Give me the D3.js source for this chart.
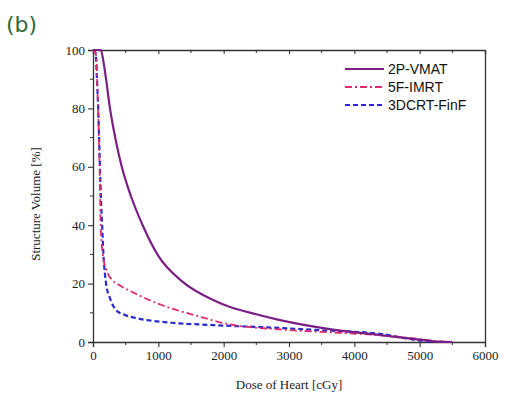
<!DOCTYPE html>
<html><head><meta charset="utf-8">
<script src="https://cdn.jsdelivr.net/npm/d3@7"></script>
<style>body{margin:0;background:#fff}svg{display:block}</style>
</head><body>
<script>
const xTicks = [0,1000,2000,3000,4000,5000,6000];
const yTicks = [0,20,40,60,80,100];
const seriesNames = ["2P-VMAT","5F-IMRT","3DCRT-FinF"];
const vmatDose = [0,120,160,200,260,340,440,580,760,1000,1378,1838,2098,2500,2864,3600,4395,5000,5300,5500];
const vmatVol  = [100,100,96,90,80,70,60,50,40,29.5,20.5,14.4,12,9.5,7.5,4.5,2.4,0.8,0.1,0];
const imrtDose = [0,50,70,90,105,117,150,200,306,400,566,800,1072,1583,2098,2864,3630,4395,5000,5300,5400];
const imrtVol  = [100,98,85,70,55,40,30,25,21,19.5,17.5,15,12.5,9,6,4.3,3.3,2.3,1,0.2,0];
const crtDose = [0,40,60,80,100,120,140,160,200,260,350,460,600,826,1200,1838,2864,3500,4395,4800,5100,5200];
const crtVol  = [100,99,90,80,65,50,40,30,20,15,11,9.5,8.5,7.5,6.6,5.8,4.8,4,2.8,1.2,0.2,0];

const W=506,H=402, L=93,R=485,T=50,B=342;
const svg=d3.select("body").append("svg").attr("width",W).attr("height",H);
const x=d3.scaleLinear().domain([0,6000]).range([L,R]);
const y=d3.scaleLinear().domain([0,100]).range([B,T]);
const serif="'Liberation Serif','Times New Roman',serif";
const sans="'Liberation Sans',Arial,sans-serif";

svg.append("text").attr("x",6).attr("y",32).text("(b)")
  .attr("font-family","'DejaVu Sans',sans-serif").attr("font-size",22).attr("fill","#2f6a3a");

// axes
const minorX=d3.range(0,6001,500), minorY=d3.range(0,101,10);
const gx=svg.append("g").attr("transform",`translate(0,${B})`)
  .call(d3.axisBottom(x).tickValues(xTicks).tickSize(5).tickPadding(4).tickFormat(d3.format("d")));
const gy=svg.append("g").attr("transform",`translate(${L},0)`)
  .call(d3.axisLeft(y).tickValues(yTicks).tickSize(5).tickPadding(3));
const gt=svg.append("g").attr("transform",`translate(0,${T})`)
  .call(d3.axisBottom(x).tickValues(xTicks).tickSize(4).tickFormat(""));
const gr=svg.append("g").attr("transform",`translate(${R},0)`)
  .call(d3.axisLeft(y).tickValues([]).tickSize(0));
[gx,gy,gt,gr].forEach(g=>{
  g.select(".domain").attr("stroke","#333").attr("stroke-width",1.3);
  g.selectAll(".tick line").attr("stroke","#333").attr("stroke-width",1.1);
  g.selectAll("text").attr("font-family",serif).attr("font-size",13).attr("fill","#222");
});
// minor ticks
svg.append("g").selectAll("line").data(minorX.filter(d=>d%1000)).join("line")
  .attr("x1",d=>x(d)).attr("x2",d=>x(d)).attr("y1",B).attr("y2",B+3).attr("stroke","#333");
svg.append("g").selectAll("line").data(minorX.filter(d=>d%1000)).join("line")
  .attr("x1",d=>x(d)).attr("x2",d=>x(d)).attr("y1",T).attr("y2",T+3).attr("stroke","#333");
svg.append("g").selectAll("line").data(minorY.filter(d=>d%20)).join("line")
  .attr("x1",L-3).attr("x2",L).attr("y1",d=>y(d)).attr("y2",d=>y(d)).attr("stroke","#333");

svg.append("text").attr("x",(L+R)/2).attr("y",389).attr("text-anchor","middle")
  .attr("font-family",serif).attr("font-size",13).attr("fill","#222").text("Dose of Heart [cGy]");
svg.append("text").attr("transform",`translate(40,${(T+B)/2+8}) rotate(-90)`).attr("text-anchor","middle")
  .attr("font-family",serif).attr("font-size",13).attr("fill","#222").text("Structure Volume [%]");

const series=[
  {name:seriesNames[0],d:vmatDose,v:vmatVol,color:"#7b1f86",dash:null,w:2.2},
  {name:seriesNames[1],d:imrtDose,v:imrtVol,color:"#e02a6e",dash:"7,3,2,3",w:1.8},
  {name:seriesNames[2],d:crtDose,v:crtVol,color:"#2a2ad2",dash:"5,3",w:2.2}
];
const line=d3.line().x(p=>x(p[0])).y(p=>y(p[1])).curve(d3.curveMonotoneX);
series.slice().reverse().forEach(s=>{
  svg.append("path").datum(s.d.map((d,i)=>[d,s.v[i]])).attr("d",line)
    .attr("fill","none").attr("stroke",s.color).attr("stroke-width",s.w)
    .attr("stroke-dasharray",s.dash);
});
// legend
series.forEach((s,i)=>{
  const yy=69+i*18;
  svg.append("line").attr("x1",345).attr("x2",384).attr("y1",yy).attr("y2",yy)
    .attr("stroke",s.color).attr("stroke-width",s.w).attr("stroke-dasharray",s.dash);
  svg.append("text").attr("x",388).attr("y",yy+5).text(s.name)
    .attr("font-family",sans).attr("font-size",14).attr("fill","#111");
});
</script>
</body></html>
